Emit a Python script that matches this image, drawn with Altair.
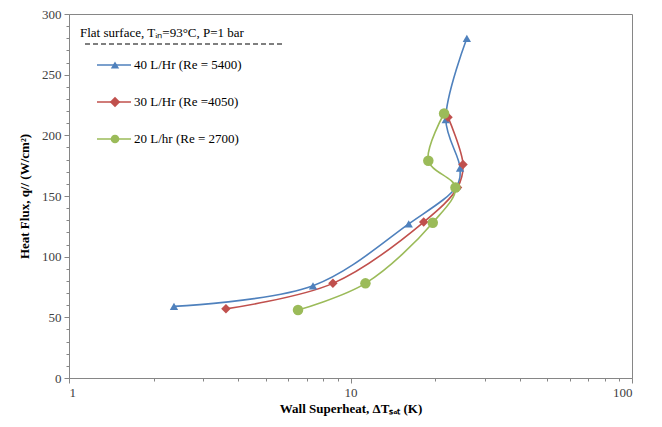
import altair as alt
import pandas as pd

# ---- data ----
series_names = ["40 L/Hr (Re = 5400)", "30 L/Hr (Re =4050)", "20 L/hr (Re = 2700)"]
colors = ["#4F81BD", "#C0504D", "#9BBB59"]
shapes = ["triangle-up", "diamond", "circle"]
marker_sizes = [70, 110, 75]

dt_40 = [2.36, 7.36, 16.1, 23.8, 24.5, 21.8, 25.9]
q_40 = [59, 76, 127, 158, 173, 213, 280]
dt_30 = [3.61, 8.66, 18.2, 24.0, 25.1, 22.2]
q_30 = [57, 78, 128.5, 157, 176, 215]
dt_20 = [6.51, 11.3, 19.6, 23.6, 18.9, 21.5]
q_20 = [56, 78, 128, 157, 179, 218]

x_ticks = [1, 2, 3, 4, 5, 6, 7, 8, 9, 10, 20, 30, 40, 50, 60, 70, 80, 90, 100]
y_ticks = list(range(0, 301, 10))

rows = []
for name, xs, ys in zip(series_names, [dt_40, dt_30, dt_20], [q_40, q_30, q_20]):
    for i, (a, b) in enumerate(zip(xs, ys)):
        rows.append({"series": name, "dT": a, "q": b, "idx": i})
df = pd.DataFrame(rows)

FONT = "Liberation Serif"
AX = "#868686"

x_enc = alt.X(
    "dT:Q",
    scale=alt.Scale(type="log", domain=[1, 100]),
    axis=alt.Axis(
        values=x_ticks,
        labelExpr="(datum.value == 1 || datum.value == 10 || datum.value == 100) ? datum.value : ''",
        title="Wall Superheat, ΔTₛₐₜ (K)",
        grid=False,
        tickSize={"condition": {"test": "datum.value == 1 || datum.value == 10 || datum.value == 100", "value": 5}, "value": 3},
        labelPadding=3,
        titlePadding=3,
    ),
)
y_enc = alt.Y(
    "q:Q",
    scale=alt.Scale(domain=[0, 300]),
    axis=alt.Axis(
        values=y_ticks,
        labelExpr="(datum.value % 50 == 0) ? datum.value : ''",
        title="Heat Flux, q// (W/cm²)",
        grid=False,
        tickSize={"condition": {"test": "datum.value % 50 == 0", "value": 5}, "value": 3},
        labelPadding=3,
        titlePadding=10,
    ),
)
color_enc = alt.Color("series:N", scale=alt.Scale(domain=series_names, range=colors), legend=None)

base = alt.Chart(df).encode(x=x_enc, y=y_enc, color=color_enc, order=alt.Order("idx:Q"))
lines = base.mark_line(interpolate="catmull-rom", strokeWidth=1.6)
points = base.mark_point(filled=True, opacity=1).encode(
    shape=alt.Shape("series:N", scale=alt.Scale(domain=series_names, range=shapes), legend=None),
    size=alt.Size("series:N", scale=alt.Scale(domain=series_names, range=marker_sizes), legend=None),
)

one = pd.DataFrame({"a": [0]})
layers = [lines, points]

# legend-like annotation inside the plot
layers.append(
    alt.Chart(one).mark_text(align="left", baseline="middle", font=FONT, fontSize=13, color="#000000").encode(
        x=alt.value(11), y=alt.value(19), text=alt.value("Flat surface, Tᵢₙ=93°C, P=1 bar")
    )
)
layers.append(
    alt.Chart(one).mark_rule(strokeDash=[5, 3], color="#000000", strokeWidth=1.2).encode(
        x=alt.value(16), x2=alt.value(216), y=alt.value(30)
    )
)
for i, (name, col, shp, sz) in enumerate(zip(series_names, colors, shapes, marker_sizes)):
    yy = 51 + 37 * i
    layers.append(
        alt.Chart(one).mark_rule(color=col, strokeWidth=1.6).encode(
            x=alt.value(28), x2=alt.value(62), y=alt.value(yy)
        )
    )
    layers.append(
        alt.Chart(one).mark_point(shape=shp, filled=True, size=sz, color=col, opacity=1).encode(
            x=alt.value(46), y=alt.value(yy)
        )
    )
    layers.append(
        alt.Chart(one).mark_text(align="left", baseline="middle", font=FONT, fontSize=13, color="#000000").encode(
            x=alt.value(65), y=alt.value(yy), text=alt.value(name)
        )
    )

chart = (
    alt.layer(*layers)
    .properties(
        width=563,
        height=364,
        autosize=alt.AutoSizeParams(type="none"),
        padding={"left": 61, "top": 6, "right": 22, "bottom": 44},
        background="white",
    )
    .configure_view(stroke=AX, strokeWidth=1)
    .configure_axis(
        domainColor=AX,
        tickColor=AX,
        labelFont=FONT,
        labelFontSize=13,
        labelColor="#404040",
        titleFont=FONT,
        titleFontSize=13,
        titleFontWeight="bold",
        titleColor="#000000",
    )
)

chart.save("out.html", embed_options={"renderer": "svg", "actions": False})
